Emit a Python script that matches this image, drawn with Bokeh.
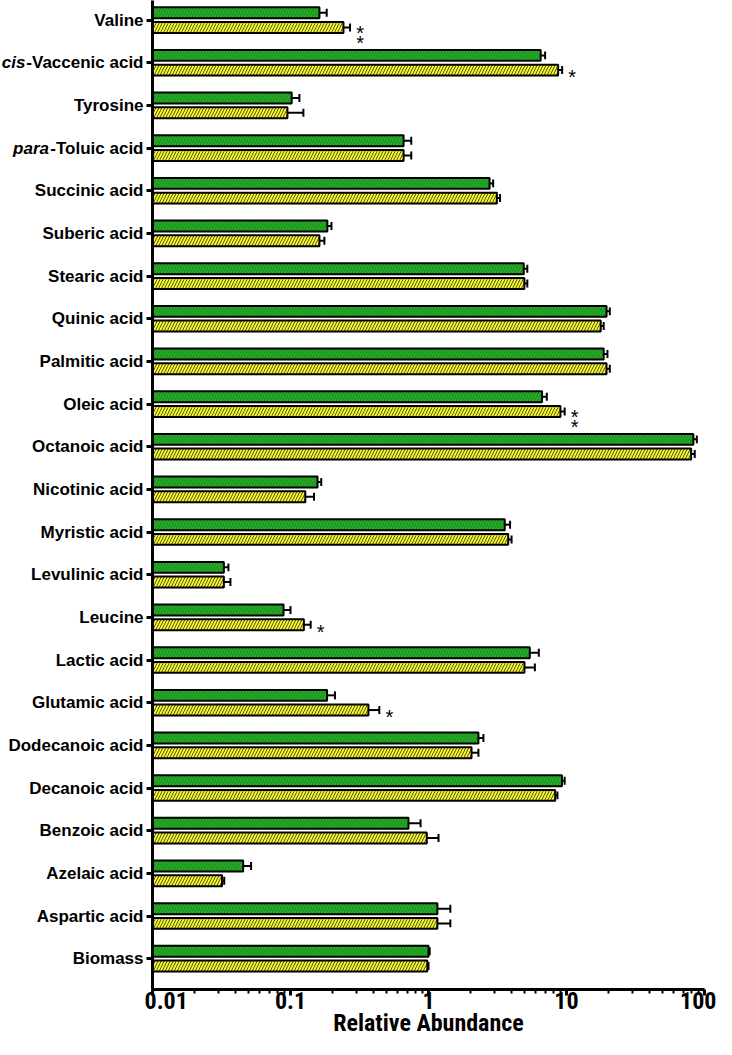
from bokeh.plotting import figure
from bokeh.layouts import row
from bokeh.models import ColumnDataSource, FixedTicker, CustomJSTickFormatter, Range1d
from bokeh.core.properties import value
from bokeh.embed import file_html
from bokeh.resources import INLINE

# ---------------- data (top to bottom as displayed) ----------------
categories = ["Valine", "cis-Vaccenic acid", "Tyrosine", "para-Toluic acid",
              "Succinic acid", "Suberic acid", "Stearic acid", "Quinic acid",
              "Palmitic acid", "Oleic acid", "Octanoic acid", "Nicotinic acid",
              "Myristic acid", "Levulinic acid", "Leucine", "Lactic acid",
              "Glutamic acid", "Dodecanoic acid", "Decanoic acid", "Benzoic acid",
              "Azelaic acid", "Aspartic acid", "Biomass"]
# italic prefix of a label (empty when none)
italic_prefix = ["", "cis", "", "para", "", "", "", "", "", "", "", "", "",
                 "", "", "", "", "", "", "", "", "", ""]

green_vals = [0.162, 6.5, 0.102, 0.66, 2.77, 0.185, 4.9, 19.5, 18.6, 6.65, 83.0,
              0.157, 3.57, 0.0329, 0.089, 5.42, 0.184, 2.3, 9.27, 0.716, 0.0454,
              1.16, 1.0]
green_err = [0.021, 0.5, 0.014, 0.09, 0.17, 0.013, 0.3, 1.1, 1.2, 0.55, 5.0,
             0.010, 0.33, 0.0026, 0.011, 0.88, 0.026, 0.2, 0.43, 0.16, 0.0064,
             0.28, 0.02]
yellow_vals = [0.242, 8.7, 0.095, 0.66, 3.13, 0.162, 4.95, 17.7, 19.5, 9.04, 80.0,
               0.128, 3.78, 0.0329, 0.125, 4.96, 0.367, 2.05, 8.28, 0.972, 0.0319,
               1.16, 0.98]
yellow_err = [0.028, 0.6, 0.029, 0.09, 0.17, 0.014, 0.25, 0.9, 1.1, 0.66, 5.0,
              0.020, 0.22, 0.0038, 0.015, 0.94, 0.073, 0.25, 0.32, 0.21, 0.0012,
              0.28, 0.02]
yellow_sig = ["**", "*", "", "", "", "", "", "", "", "**", "", "", "", "", "*",
              "", "*", "", "", "", "", "", ""]

x_ticks = [0.01, 0.1, 1, 10, 100]
x_label = "Relative Abundance"

# ---------------- layout ----------------
H = 1039
LAB_W = 144          # width of the category-label panel
MAIN_W = 716 - LAB_W
BORDER_L, BORDER_R, BORDER_T, BORDER_B = 8, 12, 0, 44
FRAME_TOP_PAGE = 8
FRAME_BOT_PAGE = 8 + H - BORDER_B
FIRST_PAGE, LAST_PAGE = 27.7, 972.0
n = len(categories)
ppu = (LAST_PAGE - FIRST_PAGE) / (n - 1)
y_end = (n - 1) + (FIRST_PAGE - FRAME_TOP_PAGE) / ppu
y_start = -(FRAME_BOT_PAGE - LAST_PAGE) / ppu
decade_px = (MAIN_W - BORDER_L - BORDER_R) / 4.0
yr = Range1d(y_start, y_end)

pos = [n - 1 - i for i in range(n)]
OFF = 7.4 / ppu
BAR_H = 11.0 / ppu
CAP = 4.0 / ppu

COND = "'Liberation Sans Narrow', 'Roboto Condensed', 'DejaVu Sans Condensed', 'Liberation Sans', sans-serif"

p = figure(width=MAIN_W, height=H, x_axis_type="log", x_range=(0.01, 100),
           y_range=yr, output_backend="svg", toolbar_location=None,
           min_border_left=BORDER_L, min_border_right=BORDER_R,
           min_border_top=BORDER_T, min_border_bottom=BORDER_B)
p.outline_line_color = None
p.grid.visible = False
p.background_fill_color = "white"

series = [
    (green_vals, green_err, +OFF, "#28B028", "#1A8C1E", 1.2, 6.0),
    (yellow_vals, yellow_err, -OFF, "#F6F62E", "#55551A", 1.0, 6.0),
]
for vals, errs, off, fill, hatch, hw, hs in series:
    ys = [q + off for q in pos]
    src = ColumnDataSource(dict(
        y=ys, val=vals, hi=[v + e for v, e in zip(vals, errs)],
        lo=[v - CAP for v in ys], up=[v + CAP for v in ys]))
    p.hbar(y="y", left=0.01, right="val", height=BAR_H, source=src,
           fill_color=fill, line_color="black", line_width=2,
           hatch_pattern="/", hatch_color=hatch, hatch_scale=hs, hatch_weight=hw)
    p.segment(x0="val", y0="y", x1="hi", y1="y", source=src,
              line_color="black", line_width=2)
    p.segment(x0="hi", y0="lo", x1="hi", y1="up", source=src,
              line_color="black", line_width=2)

# significance asterisks next to the yellow bars
ast_factor = 10 ** (10.0 / decade_px)
AST_ABOVE_BASE = 11.0
ax, ay, at = [], [], []
for q, v, e, s in zip(pos, yellow_vals, yellow_err, yellow_sig):
    if not s:
        continue
    yc = q - OFF
    centers = [-4.0] if len(s) == 1 else [-5.5, 4.5]
    for c in centers:
        ax.append((v + e) * ast_factor)
        ay.append(yc - (c + AST_ABOVE_BASE) / ppu)
        at.append("*")
p.text(x=ax, y=ay, text=at, text_align="center", text_baseline="alphabetic",
       text_font=value("Liberation Sans"), text_font_size="20px", text_color="black")

# ---------------- axes ----------------
xa = p.xaxis[0]
xa.ticker = FixedTicker(ticks=x_ticks,
                        minor_ticks=[m * t for t in x_ticks[:-1] for m in range(2, 10)])
xa.formatter = CustomJSTickFormatter(code="return String(tick)")
xa.axis_line_width = 3
xa.axis_line_color = "black"
xa.major_tick_line_width = 3
xa.major_tick_out = 6
xa.major_tick_in = 0
xa.minor_tick_line_width = 2
xa.minor_tick_out = 4
xa.minor_tick_in = 0
xa.major_label_standoff = -4
xa.major_label_text_font = COND
xa.major_label_text_font_style = "bold"
xa.major_label_text_font_size = "24px"
xa.major_label_text_color = "black"
xa.axis_label = x_label
xa.axis_label_standoff = -3
xa.axis_label_text_font = COND
xa.axis_label_text_font_style = "bold"
xa.axis_label_text_font_size = "24px"
xa.axis_label_text_color = "black"

ya = p.yaxis[0]
ya.ticker = FixedTicker(ticks=pos)
ya.major_label_overrides = {q: "" for q in pos}
ya.major_label_standoff = 0
ya.axis_line_width = 3
ya.axis_line_color = "black"
ya.major_tick_line_width = 3
ya.major_tick_out = 6
ya.major_tick_in = 0
ya.minor_tick_line_color = None

# ---------------- category-label panel ----------------
lab = figure(width=LAB_W, height=H, x_range=(0, LAB_W), y_range=yr,
             output_backend="svg", toolbar_location=None,
             x_axis_location=None, y_axis_location=None,
             min_border_left=0, min_border_right=0,
             min_border_top=BORDER_T, min_border_bottom=BORDER_B)
lab.outline_line_color = None
lab.grid.visible = False

FS = 17
ARIAL_BOLD = {"-": .333, "V": .667, "a": .556, "c": .556, "e": .556, "n": .611,
              "i": .278, " ": .278, "d": .611, "T": .611, "o": .611, "l": .278,
              "u": .611}
LABEL_RIGHT = LAB_W - 1
nx, ny, nt, ix, iy, it = [], [], [], [], [], []
for q, c, ip in zip(pos, categories, italic_prefix):
    rest = c[len(ip):]
    nx.append(LABEL_RIGHT); ny.append(q); nt.append(rest)
    if ip:
        w = sum(ARIAL_BOLD.get(ch, .556) for ch in rest) * FS
        ix.append(LABEL_RIGHT - w); iy.append(q); it.append(ip)
lab.text(x=nx, y=ny, text=nt, text_align="right", text_baseline="middle",
         text_font=value("Liberation Sans"), text_font_style="bold",
         text_font_size=f"{FS}px", text_color="black")
lab.text(x=ix, y=iy, text=it, text_align="right", text_baseline="middle",
         text_font=value("Liberation Sans"), text_font_style="bold italic",
         text_font_size=f"{FS}px", text_color="black")

layout = row(lab, p)
open("out.html", "w").write(file_html(layout, INLINE))
